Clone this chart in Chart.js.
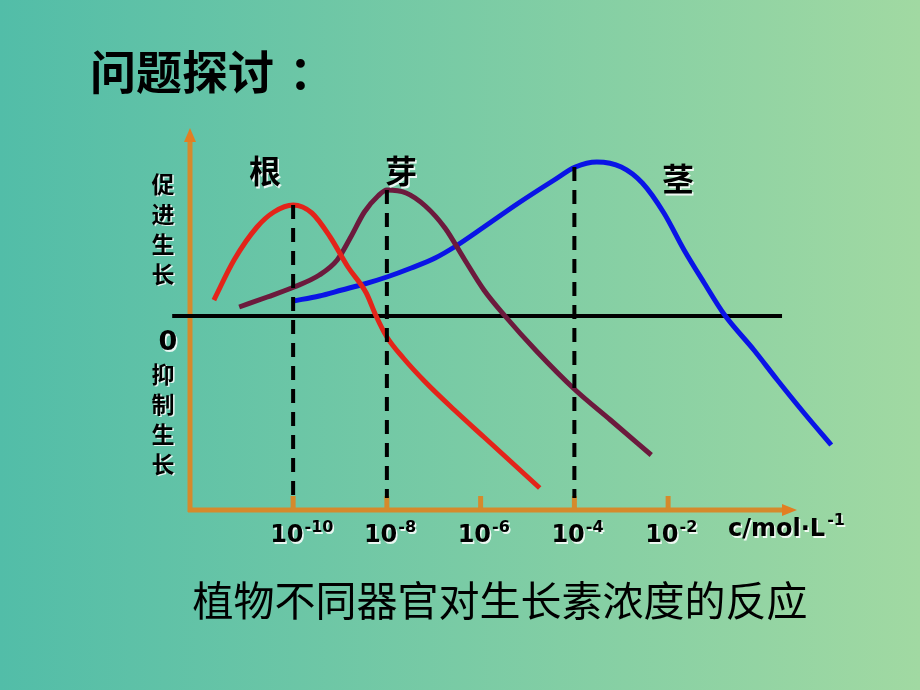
<!DOCTYPE html>
<html><head><meta charset="utf-8">
<script src="https://cdn.jsdelivr.net/npm/chart.js@4/dist/chart.umd.min.js"></script>
<style>
html,body{margin:0;padding:0;}
body{width:920px;height:690px;overflow:hidden;background:linear-gradient(to right,#52bda8,#a1d9a2);}
canvas{display:block;}
</style>
</head><body>
<canvas id="c" width="920" height="690"></canvas>
<script>
// x = log10 of auxin concentration (mol/L); y = growth effect (+ promote, - inhibit), arbitrary units
const tickExponents = [-10, -8, -6, -4, -2];
const organLabels = ['根', '芽', '茎'];

const rootX = [-11.69, -11.26, -10.77, -10.41, -10, -9.60, -9.21, -8.83, -8.44, -8.23, -8, -7.65, -7.18, -6.56, -5.93, -5.37, -4.74];
const rootY = [8, 28, 44.5, 52, 55.5, 51.5, 39.5, 24.5, 11.5, 0, -10.5, -21, -33, -47, -60.5, -72.5, -86];

const budX = [-11.15, -10.55, -9.98, -9.44, -9.06, -8.77, -8.48, -8.19, -8, -7.59, -7.18, -6.76, -6.35, -5.93, -5.48, -4.81, -3.98, -3.23, -2.36];
const budY = [4.5, 9.5, 14.5, 20.5, 28, 39.5, 52, 60, 63, 61.5, 55, 44, 28.5, 13, 0, -17.5, -37, -52, -69.5];

const stemX = [-10, -9.44, -8.96, -8.48, -8, -7.48, -6.97, -6.56, -5.93, -5.19, -4.43, -3.98, -3.52, -3.0, -2.55, -2.09, -1.66, -1.23, -0.81, -0.17, 0.33, 0.90, 1.48];
const stemY = [7.5, 10, 13, 16, 19.5, 24, 29, 34.5, 44.5, 56.5, 68, 74.5, 77, 74.5, 66.5, 51.5, 33, 16.5, 1, -17, -32, -48.5, -64.5];

// optimum concentrations (dashed guide lines) and the curve height there
const optimumX = [-10, -8, -4];
const optimumY = [55.5, 63, 74.5];
const guideBottomY = -91;

const zeroLineX = [-12.58, 0.43];

const pts = (xs, ys) => xs.map((x, i) => ({x, y: ys[i]}));

const datasets = [
  {data: pts(zeroLineX, [0, 0]), borderColor: '#000', borderWidth: 4, order: 3},
  {data: pts(rootX, rootY), borderColor: '#e3241a', borderWidth: 5, cubicInterpolationMode: 'monotone', order: 2},
  {data: pts(budX, budY), borderColor: '#6c1a3d', borderWidth: 5, cubicInterpolationMode: 'monotone', order: 2},
  {data: pts(stemX, stemY), borderColor: '#0a14e6', borderWidth: 5, cubicInterpolationMode: 'monotone', order: 2},
];
optimumX.forEach((x, i) => datasets.push({
  data: [{x, y: optimumY[i]}, {x, y: guideBottomY}],
  borderColor: '#000', borderWidth: 4, borderDash: [14, 9], order: 1
}));
datasets.forEach(d => { d.pointRadius = 0; d.clip = false; d.fill = false; d.borderCapStyle = 'butt'; });

const ORANGE = '#d58a2c';
const decor = {
  id: 'decor',
  beforeDatasetsDraw(chart) {
    const {ctx, chartArea: a, scales: {x}} = chart;
    ctx.save();
    ctx.strokeStyle = ORANGE; ctx.fillStyle = '#e27e22'; ctx.lineWidth = 5;
    // y axis
    ctx.beginPath(); ctx.moveTo(a.left, a.bottom + 2); ctx.lineTo(a.left, a.top + 12); ctx.stroke();
    ctx.beginPath(); ctx.moveTo(a.left, a.top); ctx.lineTo(a.left - 6, a.top + 14); ctx.lineTo(a.left + 6, a.top + 14); ctx.closePath(); ctx.fill();
    // x axis
    const xEnd = 797;
    ctx.beginPath(); ctx.moveTo(a.left - 2, a.bottom); ctx.lineTo(xEnd - 12, a.bottom); ctx.stroke();
    ctx.beginPath(); ctx.moveTo(xEnd, a.bottom); ctx.lineTo(xEnd - 15, a.bottom - 6); ctx.lineTo(xEnd - 15, a.bottom + 6); ctx.closePath(); ctx.fill();
    // tick marks
    ctx.lineWidth = 5;
    tickExponents.forEach(e => {
      const px = x.getPixelForValue(e);
      ctx.beginPath(); ctx.moveTo(px, a.bottom); ctx.lineTo(px, a.bottom - 14); ctx.stroke();
    });
    ctx.restore();
  },
  afterDraw(chart) {
    const {ctx, chartArea: a, scales: {x}} = chart;
    ctx.save();
    ctx.fillStyle = '#000';
    // title & caption (no shadow)
    ctx.textBaseline = 'middle';
    ctx.textAlign = 'left';
    ctx.font = 'bold 46px "Noto Sans CJK SC"';
    ctx.fillText('问题探讨', 90, 72);
    ctx.textAlign = 'center';
    ctx.fillText('：', 312, 72);
    ctx.font = '41px "Noto Sans CJK SC"';
    ctx.fillText('植物不同器官对生长素浓度的反应', 500, 600);

    ctx.shadowColor = 'rgba(255,255,255,0.85)';
    ctx.shadowOffsetX = 1.5; ctx.shadowOffsetY = 1.5; ctx.shadowBlur = 0;
    // organ labels
    ctx.font = 'bold 32px "Noto Sans CJK SC"';
    ctx.fillText(organLabels[0], 265, 171);
    ctx.fillText(organLabels[1], 401, 171);
    ctx.fillText(organLabels[2], 678, 179);
    // y-axis side labels
    ctx.font = 'bold 23px "Noto Sans CJK SC"';
    ['促', '进', '生', '长'].forEach((ch, i) => ctx.fillText(ch, 163, 184 + i * 30));
    ['抑', '制', '生', '长'].forEach((ch, i) => ctx.fillText(ch, 163, 374 + i * 30));
    ctx.font = 'bold 27px "DejaVu Sans"';
    ctx.fillText('0', 168, 343);
    // tick labels 10^n
    ctx.textAlign = 'left'; ctx.textBaseline = 'alphabetic';
    tickExponents.forEach(e => {
      const px = x.getPixelForValue(e);
      ctx.font = 'bold 24px "DejaVu Sans"';
      const sx = px - 23;
      ctx.fillText('10', sx, 542);
      const w = ctx.measureText('10').width;
      ctx.font = 'bold 16px "DejaVu Sans"';
      ctx.fillText('-' + Math.abs(e), sx + w + 1, 532);
    });
    // unit
    ctx.font = 'bold 24px "DejaVu Sans"';
    ctx.fillText('c/mol·L', 728, 536);
    const uw = ctx.measureText('c/mol·L').width;
    ctx.font = 'bold 16px "DejaVu Sans"';
    ctx.fillText('-1', 728 + uw + 2, 525);
    ctx.restore();
  }
};

new Chart(document.getElementById('c'), {
  type: 'line',
  data: {datasets},
  options: {
    responsive: false,
    animation: false,
    devicePixelRatio: 1,
    layout: {padding: {left: 190, right: 70, top: 128, bottom: 180}},
    plugins: {legend: {display: false}, tooltip: {enabled: false}, title: {display: false}},
    scales: {
      x: {type: 'linear', min: -12.2, max: 1.88, display: false},
      y: {type: 'linear', min: -97, max: 94, display: false}
    }
  },
  plugins: [decor]
});
</script>
</body></html>
